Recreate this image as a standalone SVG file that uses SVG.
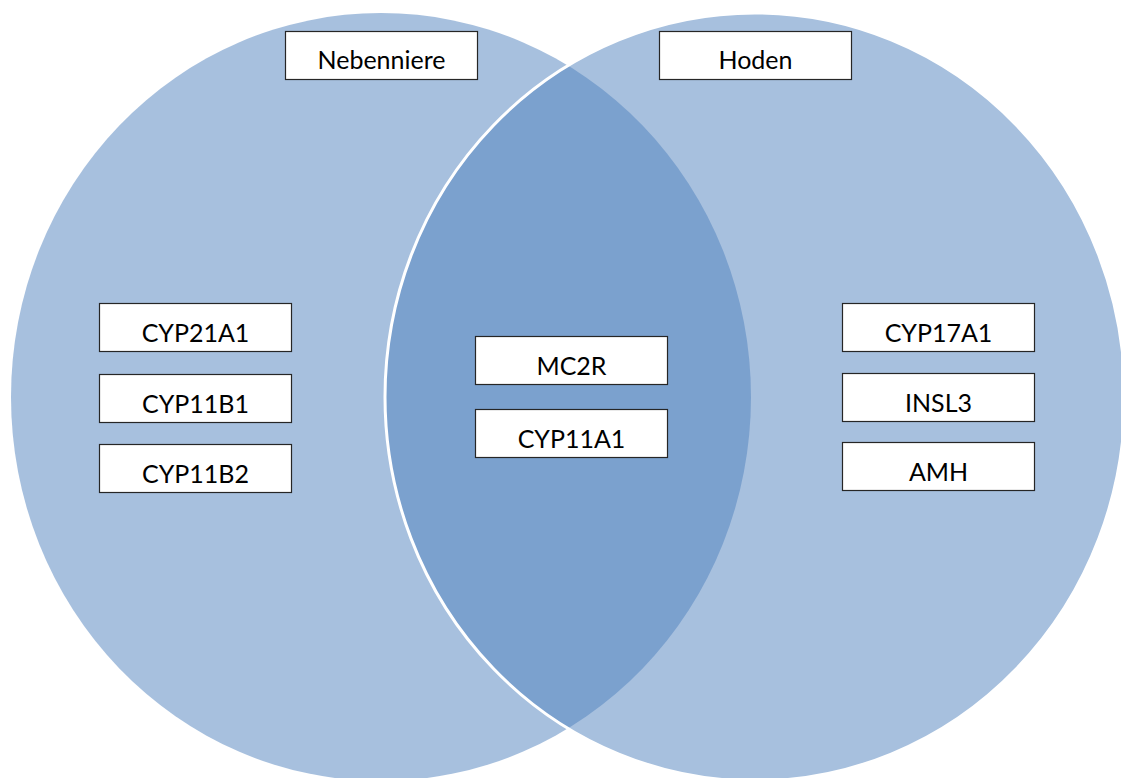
<svg xmlns="http://www.w3.org/2000/svg" width="1121" height="778" viewBox="0 0 1121 778">
  <style>
    .set { fill: #4F81BD; fill-opacity: 0.5; }
    .box { fill: #FFFFFF; stroke: #262626; stroke-width: 1.2; }
    .lbl { font-family: Lato, "Liberation Sans", sans-serif; font-size: 25px; fill: #000000; text-anchor: middle; }
  </style>
  <rect width="1121" height="778" fill="#FFFFFF"/>
  <g id="set-nebenniere">
    <ellipse class="set" cx="381" cy="397" rx="370" ry="384"/>
  </g>
  <g id="set-hoden">
    <ellipse class="set" cx="755" cy="397" rx="370" ry="384" stroke="#FFFFFF" stroke-width="3"/>
  </g>
  <g id="connectors"></g>
  <g id="node-nebenniere">
    <rect class="box" x="285.5" y="31.5" width="192" height="48"/>
    <text class="lbl" x="381.5" y="69">Nebenniere</text>
  </g>
  <g id="node-hoden">
    <rect class="box" x="659.5" y="31.5" width="192" height="48"/>
    <text class="lbl" x="755.5" y="69">Hoden</text>
  </g>
  <g id="node-cyp21a1">
    <rect class="box" x="99.5" y="303.5" width="192" height="48"/>
    <text class="lbl" x="195.5" y="342">CYP21A1</text>
  </g>
  <g id="node-cyp11b1">
    <rect class="box" x="99.5" y="374.5" width="192" height="48"/>
    <text class="lbl" x="195.5" y="413">CYP11B1</text>
  </g>
  <g id="node-cyp11b2">
    <rect class="box" x="99.5" y="444.5" width="192" height="48"/>
    <text class="lbl" x="195.5" y="483">CYP11B2</text>
  </g>
  <g id="node-mc2r">
    <rect class="box" x="475.5" y="336.5" width="192" height="48"/>
    <text class="lbl" x="571.5" y="375">MC2R</text>
  </g>
  <g id="node-cyp11a1">
    <rect class="box" x="475.5" y="409.5" width="192" height="48"/>
    <text class="lbl" x="571.5" y="448">CYP11A1</text>
  </g>
  <g id="node-cyp17a1">
    <rect class="box" x="842.5" y="303.5" width="192" height="48"/>
    <text class="lbl" x="938.5" y="342">CYP17A1</text>
  </g>
  <g id="node-insl3">
    <rect class="box" x="842.5" y="373.5" width="192" height="48"/>
    <text class="lbl" x="938.5" y="412">INSL3</text>
  </g>
  <g id="node-amh">
    <rect class="box" x="842.5" y="442.5" width="192" height="48"/>
    <text class="lbl" x="938.5" y="481">AMH</text>
  </g>
</svg>
